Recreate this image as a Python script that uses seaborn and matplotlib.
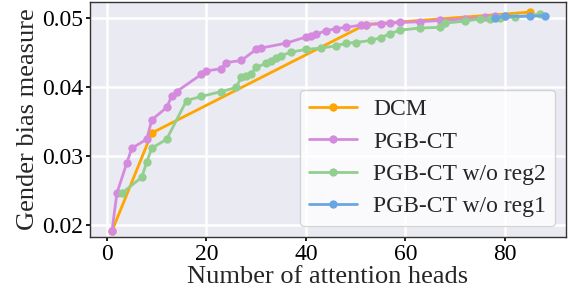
import pandas as pd
import matplotlib.pyplot as plt
import seaborn as sns

# values
dcm_x = [1, 9, 52, 85]
dcm_y = [0.0191, 0.0333, 0.0490, 0.0508]

pgb_x = [1, 2, 4, 5, 8, 9, 12, 13, 14, 19, 20, 23, 24, 27, 30, 31, 36, 40, 41, 42,
         44, 46, 48, 51, 52, 55, 57, 59, 63, 67, 72, 76, 78, 80]
pgb_y = [0.0191, 0.0246, 0.0290, 0.0311, 0.0324, 0.0352, 0.0370, 0.0386, 0.0393, 0.0418,
         0.0423, 0.0426, 0.0435, 0.0438, 0.0454, 0.0456, 0.0463, 0.0472, 0.0474, 0.0476,
         0.0481, 0.0484, 0.0486, 0.0489, 0.0490, 0.0491, 0.0492, 0.0493, 0.0494, 0.0496,
         0.0498, 0.0501, 0.0502, 0.0503]

reg2_x = [3, 7, 8, 9, 12, 16, 19, 23, 26, 27, 28, 29, 30, 32, 33, 34, 35, 37, 40, 43,
          46, 48, 50, 53, 55, 57, 59, 63, 67, 68, 72, 75, 77, 79, 82, 87]
reg2_y = [0.0246, 0.0269, 0.0291, 0.0311, 0.0324, 0.0380, 0.0386, 0.0393, 0.0399, 0.0414,
          0.0416, 0.0419, 0.0428, 0.0434, 0.0437, 0.0441, 0.0445, 0.0450, 0.0454, 0.0456,
          0.0459, 0.0463, 0.0464, 0.0467, 0.0471, 0.0477, 0.0482, 0.0485, 0.0486, 0.0492,
          0.0495, 0.0498, 0.0498, 0.0499, 0.0501, 0.0505]

reg1_x = [78, 80, 85, 88]
reg1_y = [0.0500, 0.0502, 0.0502, 0.0503]

sns.set_theme(style='darkgrid', rc={
    'axes.edgecolor': '0.2',
    'axes.linewidth': 1.0,
    'xtick.bottom': True,
    'ytick.left': True,
    'xtick.major.size': 3,
    'ytick.major.size': 3,
    'xtick.color': 'black',
    'ytick.color': 'black',
    'grid.linewidth': 1.8,
})
plt.rcParams['font.family'] = ['Liberation Serif', 'DejaVu Serif']

fig, ax = plt.subplots(figsize=(5.7, 3.0), dpi=100)

series = [
    ('DCM', dcm_x, dcm_y, '#FFA500'),
    ('PGB-CT', pgb_x, pgb_y, '#D58BDD'),
    ('PGB-CT w/o reg2', reg2_x, reg2_y, '#92CF8E'),
    ('PGB-CT w/o reg1', reg1_x, reg1_y, '#6AA6E2'),
]
for name, xs, ys, col in series:
    df = pd.DataFrame({'x': xs, 'y': ys})
    sns.lineplot(data=df, x='x', y='y', ax=ax, color=col, marker='o',
                 markersize=6, markeredgewidth=0, linewidth=2, label=name)

ax.set_xticks([0, 20, 40, 60, 80])
ax.set_yticks([0.02, 0.03, 0.04, 0.05])
ax.set_xlim(-3.4, 92.3)
ax.set_ylim(0.01825, 0.05225)
ax.tick_params(labelsize=17, pad=2)
ax.set_xlabel('Number of attention heads', fontsize=19, labelpad=1)
ax.set_ylabel('Gender bias measure', fontsize=19, labelpad=2)

leg = ax.legend(loc='lower right', fontsize=17, handlelength=2.0, handletextpad=0.7,
                labelspacing=0.45, borderaxespad=0.45, frameon=True)
leg.get_frame().set_facecolor('white')
leg.get_frame().set_alpha(0.8)

fig.subplots_adjust(left=0.158, right=0.993, top=0.993, bottom=0.21)
fig.savefig('out.png', dpi=100)
